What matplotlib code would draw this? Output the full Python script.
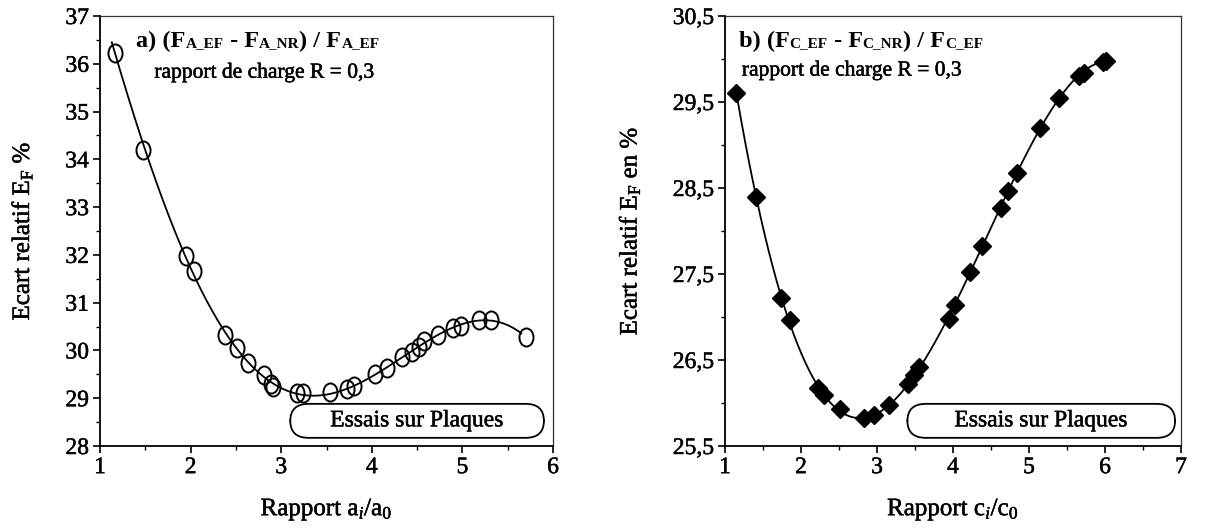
import numpy as np
import matplotlib
matplotlib.use('Agg')
import matplotlib.pyplot as plt
import matplotlib.patheffects as pe
from matplotlib.path import Path
from matplotlib.transforms import Affine2D
from matplotlib.patches import FancyBboxPatch
from matplotlib.offsetbox import TextArea, HPacker, AnchoredOffsetbox
from matplotlib.ticker import MultipleLocator, FuncFormatter

plt.rcParams['font.family'] = ['Liberation Serif', 'DejaVu Serif']
plt.rcParams['mathtext.fontset'] = 'custom'
plt.rcParams['mathtext.rm'] = 'Liberation Serif'
plt.rcParams['mathtext.it'] = 'Liberation Serif:italic'
plt.rcParams['mathtext.bf'] = 'Liberation Serif:bold'

# ---- data: panel a) ----
a_ratio = [1.17, 1.48, 1.95, 2.04, 2.38, 2.51, 2.63, 2.81, 2.89, 2.91, 3.17, 3.24,
           3.54, 3.73, 3.80, 4.04, 4.17, 4.33, 4.44, 4.52, 4.58, 4.73, 4.90, 4.99,
           5.18, 5.32, 5.70]
a_ecart = [36.23, 34.20, 31.98, 31.66, 30.33, 30.05, 29.74, 29.48, 29.30, 29.24, 29.10, 29.10,
           29.12, 29.20, 29.26, 29.50, 29.63, 29.86, 29.96, 30.08, 30.20, 30.33, 30.48, 30.52,
           30.63, 30.63, 30.28]

# ---- data: panel b) ----
c_ratio = [1.15, 1.41, 1.74, 1.85, 2.22, 2.30, 2.51, 2.83, 2.96, 3.16, 3.41, 3.49, 3.55,
           3.95, 4.02, 4.23, 4.38, 4.63, 4.72, 4.84, 5.14, 5.39, 5.66, 5.73, 5.97, 6.01]
c_ecart = [29.60, 28.40, 27.22, 26.96, 26.17, 26.09, 25.93, 25.82, 25.86, 25.98, 26.22, 26.32, 26.42,
           26.98, 27.14, 27.52, 27.82, 28.27, 28.46, 28.68, 29.20, 29.55, 29.80, 29.84, 29.97, 29.98]

a_xticks = [1, 2, 3, 4, 5, 6]
a_yticks = [28, 29, 30, 31, 32, 33, 34, 35, 36, 37]
c_xticks = [1, 2, 3, 4, 5, 6, 7]
c_yticks = [25.5, 26.5, 27.5, 28.5, 29.5, 30.5]

W, H = 1206, 528
fig = plt.figure(figsize=(W / 100, H / 100), dpi=100)

heavy = [pe.withStroke(linewidth=0.35, foreground='black')]

def ax_rect(x0, x1, y0, y1):
    return [x0 / W, 1 - y1 / H, (x1 - x0) / W, (y1 - y0) / H]

axA = fig.add_axes(ax_rect(100, 553, 16, 446))
axB = fig.add_axes(ax_rect(725, 1181, 16, 446))

ell = Path.unit_circle().transformed(Affine2D().scale(0.78, 1.0))

def style(ax):
    for s in ['left', 'bottom']:
        ax.spines[s].set_linewidth(1.3)
    for s in ['top', 'right']:
        ax.spines[s].set_linewidth(0.9)
        ax.spines[s].set_color('#333333')
    ax.tick_params(which='major', direction='out', length=5, width=1.2,
                   labelsize=17, pad=3)
    ax.tick_params(which='minor', direction='out', length=3, width=1.0)
    ax.xaxis.set_minor_locator(MultipleLocator(0.5))
    ax.yaxis.set_minor_locator(MultipleLocator(0.5))
    for lab in ax.get_xticklabels() + ax.get_yticklabels():
        lab.set_path_effects(heavy)

# ---- panel a ----
axA.set_xlim(1, 6)
axA.set_ylim(28, 37)
pa = np.polyfit(a_ratio, a_ecart, 5)
xa = np.linspace(1.13, 5.65, 300)
axA.plot(xa, np.polyval(pa, xa), color='black', lw=1.3)
axA.plot(a_ratio, a_ecart, linestyle='none', marker=ell, markersize=13,
         markerfacecolor='none', markeredgecolor='black', markeredgewidth=1.4)
axA.set_xticks(a_xticks)
axA.set_yticks(a_yticks)
style(axA)
axA.set_xlabel(r"Rapport a$_{\mathit{i}}$/a$_{\mathregular{0}}$", fontsize=18,
               labelpad=13, path_effects=heavy)
axA.set_ylabel(r"Ecart relatif E$_{\mathregular{F}}$ %", fontsize=18,
               labelpad=22, path_effects=heavy)

# ---- panel b ----
axB.set_xlim(1, 7)
axB.set_ylim(25.5, 30.5)
pc = np.polyfit(c_ratio, c_ecart, 5)
xc = np.linspace(1.15, 6.0, 300)
axB.plot(xc, np.polyval(pc, xc), color='black', lw=1.3)
axB.plot(c_ratio, c_ecart, linestyle='none', marker='D', markersize=9,
         color='black')
axB.set_xticks(c_xticks)
axB.set_yticks(c_yticks)
axB.yaxis.set_major_formatter(FuncFormatter(lambda v, p: f"{v:.1f}".replace('.', ',')))
style(axB)
axB.set_xlabel(r"Rapport c$_{\mathit{i}}$/c$_{\mathregular{0}}$", fontsize=18,
               labelpad=13, path_effects=heavy)
axB.set_ylabel(r"Ecart relatif E$_{\mathregular{F}}$ en %", fontsize=18,
               labelpad=22, path_effects=heavy)

# ---- titles with small-caps style subscripts ----
def title(ax, letter, sym, x, y):
    big = dict(fontsize=17.5, fontweight='bold', family='Liberation Serif')
    small = dict(fontsize=11, fontweight='bold', family='Liberation Serif')
    parts = [(f"{letter}) (F", big), (f"{sym}_EF", small), (" - F", big),
             (f"{sym}_NR", small), (") / F", big), (f"{sym}_EF", small)]
    boxes = [TextArea(t, textprops=p) for t, p in parts]
    pack = HPacker(children=boxes, align='baseline', pad=0, sep=0)
    anc = AnchoredOffsetbox(loc='upper left', child=pack, pad=0, borderpad=0,
                            frameon=False, bbox_to_anchor=(x, y),
                            bbox_transform=ax.transAxes)
    ax.add_artist(anc)

title(axA, 'a', 'A', 0.08, 0.965)
axA.text(0.12, 0.867, "rapport de charge R = 0,3", transform=axA.transAxes,
         fontsize=15.5, va='center', ha='left', path_effects=heavy)
title(axB, 'b', 'C', 0.03, 0.965)
axB.text(0.037, 0.872, "rapport de charge R = 0,3", transform=axB.transAxes,
         fontsize=15.5, va='center', ha='left', path_effects=heavy)

# ---- rounded "Essais sur Plaques" boxes ----
def essais(ax, x0, x1, y0, y1):
    box = FancyBboxPatch((x0, y0), x1 - x0, y1 - y0,
                         boxstyle="round,pad=0,rounding_size=0.04",
                         transform=ax.transAxes, facecolor='white',
                         edgecolor='black', lw=1.3, zorder=3)
    ax.add_patch(box)
    ax.text((x0 + x1) / 2, (y0 + y1) / 2, "Essais sur Plaques", transform=ax.transAxes,
            fontsize=17, ha='center', va='center', zorder=4, path_effects=heavy)

essais(axA, 0.42, 0.98, 0.019, 0.098)
essais(axB, 0.40, 0.987, 0.019, 0.098)

fig.savefig('out.png', dpi=100)
